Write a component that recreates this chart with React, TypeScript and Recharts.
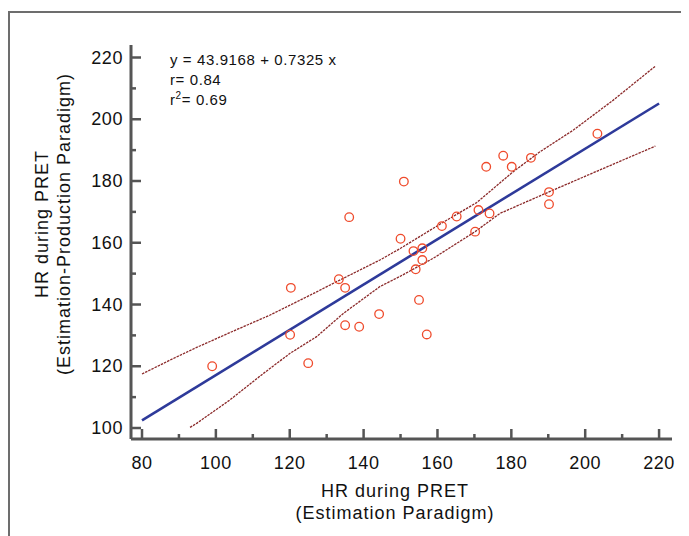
import React from 'react';
import { ScatterChart, Scatter, XAxis, YAxis } from 'recharts';

// observed pairs (x: estimation paradigm, y: estimation-production paradigm)
const hrEstimation = [
  99.0, 120.3, 120.1, 125.0, 133.3, 135.0, 135.0, 138.8, 144.2, 136.1,
  150.0, 150.9, 153.5, 155.9, 155.9, 154.1, 155.0, 157.1, 161.2, 165.2,
  170.2, 171.1, 174.1, 173.2, 177.8, 180.1, 185.3, 190.2, 190.2, 203.3,
];
const hrEstProd = [
  120.0, 145.4, 130.2, 121.0, 148.2, 145.4, 133.3, 132.8, 136.9, 168.3,
  161.3, 179.8, 157.3, 158.2, 154.4, 151.4, 141.5, 130.3, 165.4, 168.5,
  163.6, 170.6, 169.5, 184.6, 188.2, 184.6, 187.5, 176.4, 172.5, 195.3,
];

// fitted line end points
const fitX = [80, 220];
const fitY = [102.5, 205.1];

// confidence band
const upperX = [80, 87.6, 94.8, 103.8, 114.7, 120.1, 127.3, 132.7, 144.4, 150, 161.2, 170.6, 180.5, 187.8, 196.8, 207.6, 219];
const upperY = [117.5, 122, 126.1, 130.9, 136.6, 139.8, 144.1, 147.4, 154.4, 158.2, 166.4, 173, 183, 189.5, 196.5, 206.2, 217.2];
const lowerX = [93, 94.8, 103.8, 112.9, 120.1, 127.3, 134.5, 144.4, 150, 158.9, 170.2, 176.9, 191.4, 204, 219];
const lowerY = [100.2, 101.5, 109.1, 117.7, 124.2, 129.6, 137.1, 145.8, 149.2, 155, 163.6, 169.5, 177.1, 183.6, 191.3];

const xTicks = [80, 90, 100, 110, 120, 130, 140, 150, 160, 170, 180, 190, 200, 210, 220];
const yTicks = [100, 110, 120, 130, 140, 150, 160, 170, 180, 190, 200, 210, 220];

const zip = (xs: number[], ys: number[]) => xs.map((x, i) => ({ x, y: ys[i] }));

const points = zip(hrEstimation, hrEstProd);
const fitLine = zip(fitX, fitY);
const upperBand = zip(upperX, upperY);
const lowerBand = zip(lowerX, lowerY);

const FONT = 'Arial, "Liberation Sans", sans-serif';
const AXIS = '#555555';

const XTick = (props: any) => {
  const { x, y, payload } = props;
  const major = payload.value % 20 === 0;
  return (
    <g>
      <line x1={x} x2={x} y1={y} y2={y - (major ? 10 : 5)} stroke={AXIS} strokeWidth={2.5} />
      {major && (
        <text x={x} y={y + 24} textAnchor="middle" dominantBaseline="central"
          fontFamily={FONT} fontSize={18} letterSpacing={0.6} fill="#111">
          {payload.value}
        </text>
      )}
    </g>
  );
};

const YTick = (props: any) => {
  const { x, y, payload } = props;
  const major = payload.value % 20 === 0;
  return (
    <g>
      <line x1={x} x2={x + (major ? 10 : 5)} y1={y} y2={y} stroke={AXIS} strokeWidth={2.5} />
      {major && (
        <text x={x - 8} y={y} textAnchor="end" dominantBaseline="central"
          fontFamily={FONT} fontSize={18} letterSpacing={0.6} fill="#111">
          {payload.value}
        </text>
      )}
    </g>
  );
};

const OpenCircle = (props: any) => {
  const { cx, cy } = props;
  return <circle cx={cx} cy={cy} r={4.3} fill="none" stroke="#ef4b2c" strokeWidth={1.3} />;
};

const NoDot = () => <g />;

export default function App() {
  return (
    <div style={{ position: 'relative', width: 681, height: 528, overflow: 'hidden', fontFamily: FONT }}>
      <div
        style={{
          position: 'absolute', left: 0, top: 3, right: -10, bottom: -10,
          borderLeft: '2px solid #6d6d6d', borderTop: '2px solid #6d6d6d',
        }}
      />
      <ScatterChart width={681} height={528} margin={{ top: 37, right: 17, bottom: 67, left: 63 }}
        style={{ position: 'absolute', left: 0, top: 0 }}>
        <XAxis
          type="number" dataKey="x" domain={[77.02, 223.5]} ticks={xTicks} interval={0}
          height={30} tickSize={0} tickMargin={0} tickLine={false}
          axisLine={{ stroke: AXIS, strokeWidth: 3 }} tick={<XTick />} allowDataOverflow
        />
        <YAxis
          type="number" dataKey="y" domain={[96.44, 224.05]} ticks={yTicks} interval={0}
          width={60} tickSize={0} tickMargin={0} tickLine={false}
          axisLine={{ stroke: AXIS, strokeWidth: 3 }} tick={<YTick />} allowDataOverflow
        />
        <Scatter data={upperBand} shape={<NoDot />} fill="#8b2a2a"
          line={{ stroke: '#8b2a2a', strokeWidth: 1.3, strokeDasharray: '2.5 1' }} isAnimationActive={false} />
        <Scatter data={lowerBand} shape={<NoDot />} fill="#8b2a2a"
          line={{ stroke: '#8b2a2a', strokeWidth: 1.3, strokeDasharray: '2.5 1' }} isAnimationActive={false} />
        <Scatter data={fitLine} shape={<NoDot />} fill="#2e3a9a"
          line={{ stroke: '#2e3a9a', strokeWidth: 2.6 }} isAnimationActive={false} />
        <Scatter data={points} shape={<OpenCircle />} isAnimationActive={false} />
      </ScatterChart>

      <div style={{ position: 'absolute', left: 162, top: 42, fontSize: 15, lineHeight: '20px', letterSpacing: 0.6, color: '#111' }}>
        <div>y = 43.9168 + 0.7325 x</div>
        <div>r= 0.84</div>
        <div>r<sup style={{ fontSize: 10, lineHeight: 0 }}>2</sup>= 0.69</div>
      </div>

      <div style={{ position: 'absolute', left: 187, width: 400, top: 472, textAlign: 'center', fontSize: 18, lineHeight: '22px', letterSpacing: 1, color: '#111' }}>
        <div>HR during PRET</div>
        <div>(Estimation Paradigm)</div>
      </div>

      <div style={{
        position: 'absolute', left: -155, top: 194, width: 400, height: 44, textAlign: 'center',
        fontSize: 18, lineHeight: '22px', letterSpacing: 1, color: '#111', transform: 'rotate(-90deg)',
      }}>
        <div>HR during PRET</div>
        <div>(Estimation-Production Paradigm)</div>
      </div>
    </div>
  );
}
